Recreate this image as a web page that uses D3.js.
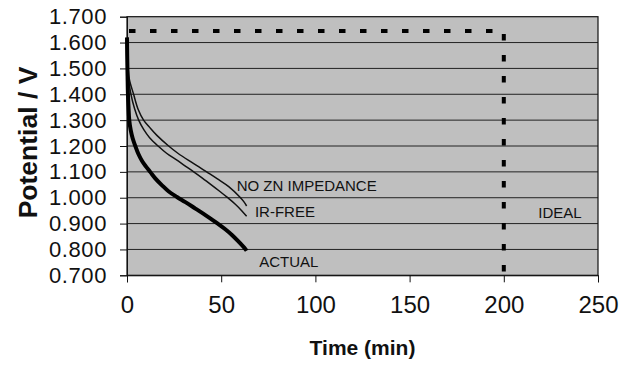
<!DOCTYPE html>
<html>
<head>
<meta charset="utf-8">
<script src="https://cdn.jsdelivr.net/npm/d3@7/dist/d3.min.js"></script>
<style>
  html, body { margin: 0; padding: 0; background: #fff; }
  svg { display: block; font-family: "Liberation Sans", Arial, Helvetica, sans-serif; }
</style>
</head>
<body>
<svg id="chart" width="629" height="365"></svg>
<script>
// ---- data ----
const xTicks = [0, 50, 100, 150, 200, 250];
const yTicks = [0.7, 0.8, 0.9, 1.0, 1.1, 1.2, 1.3, 1.4, 1.5, 1.6, 1.7];

const actualTime = [0, 0.1, 0.3, 0.5, 0.8, 1.2, 2, 3, 4.4, 6, 8, 10, 12.4, 15, 18.6, 22, 26.5, 31, 36.3, 42, 47.8, 52, 55.7, 59, 62.8, 63.5];
const actualV    = [1.62, 1.55, 1.47, 1.40, 1.35, 1.30, 1.26, 1.23, 1.20, 1.17, 1.142, 1.121, 1.099, 1.075, 1.048, 1.025, 1.003, 0.983, 0.958, 0.931, 0.902, 0.879, 0.856, 0.832, 0.802, 0.795];

const irTime = [0, 0.3, 0.8, 2.1, 4, 6.2, 9, 12, 16.8, 21, 26.5, 30, 35.4, 40, 45.1, 49, 53.1, 57.5, 61, 63.5];
const irV    = [1.60, 1.52, 1.46, 1.40, 1.345, 1.30, 1.262, 1.232, 1.198, 1.172, 1.145, 1.127, 1.10, 1.076, 1.048, 1.026, 1.002, 0.975, 0.949, 0.928];

const noZnTime = [0, 0.4, 1.2, 3.5, 6, 8.8, 12, 16, 22.1, 27, 32.7, 38, 42.5, 48, 54, 60, 62, 63.5];
const noZnV    = [1.60, 1.52, 1.46, 1.40, 1.34, 1.30, 1.272, 1.240, 1.200, 1.172, 1.144, 1.120, 1.099, 1.073, 1.043, 1.002, 0.985, 0.968];

const idealTime = [0, 200, 200];
const idealV    = [1.645, 1.645, 0.7];

const labelText = ["NO ZN IMPEDANCE", "IR-FREE", "ACTUAL", "IDEAL"];
const labelTime = [58.2, 67.9, 70.2, 218.3];
const labelV    = [1.027, 0.924, 0.733, 0.923];

// ---- layout ----
const svg = d3.select("#chart");
const mLeft = 127, mRight = 598, mTop = 16.7, mBottom = 275.3;

const x = d3.scaleLinear().domain([0, 250]).range([mLeft, mRight]);
const y = d3.scaleLinear().domain([0.7, 1.7]).range([mBottom, mTop]);

// plot background
svg.append("rect")
  .attr("x", mLeft).attr("y", mTop)
  .attr("width", mRight - mLeft).attr("height", mBottom - mTop)
  .attr("fill", "#bfbfbf");

// gridlines
svg.append("g").selectAll("line")
  .data(yTicks.slice(1, -1))
  .join("line")
  .attr("x1", mLeft).attr("x2", mRight)
  .attr("y1", d => y(d)).attr("y2", d => y(d))
  .attr("stroke", "#222").attr("stroke-width", 1);

// frame
svg.append("rect")
  .attr("x", mLeft).attr("y", mTop)
  .attr("width", mRight - mLeft).attr("height", mBottom - mTop)
  .attr("fill", "none").attr("stroke", "#111").attr("stroke-width", 1.2);

// axes
const yAxis = d3.axisLeft(y).tickValues(yTicks).tickFormat(d3.format(".3f")).tickSize(7).tickPadding(13);
const gy = svg.append("g").attr("transform", `translate(${mLeft},0)`).call(yAxis);
gy.select(".domain").attr("stroke", "#111");
gy.selectAll(".tick line").attr("stroke", "#111");
gy.selectAll("text")
  .attr("font-size", 22).attr("fill", "#111")
  .attr("font-family", "'Liberation Sans', Arial, sans-serif")
  .attr("letter-spacing", "0.6px");

const xAxis = d3.axisBottom(x).tickValues(xTicks).tickSize(7).tickPadding(14);
const gx = svg.append("g").attr("transform", `translate(0,${mBottom})`).call(xAxis);
gx.select(".domain").attr("stroke", "#111");
gx.selectAll(".tick line").attr("stroke", "#111");
gx.selectAll("text")
  .attr("font-size", 24).attr("fill", "#111")
  .attr("font-family", "'Liberation Sans', Arial, sans-serif");

// axis titles
svg.append("text")
  .attr("x", (mLeft + mRight) / 2).attr("y", 355)
  .attr("text-anchor", "middle")
  .attr("font-size", 21).attr("font-weight", "bold").attr("fill", "#111")
  .text("Time (min)");

svg.append("text")
  .attr("transform", "translate(36.5,142.5) rotate(-90)")
  .attr("text-anchor", "middle")
  .attr("font-size", 26.5).attr("font-weight", "bold").attr("fill", "#111")
  .text("Potential / V");

// series
const line = d3.line().x(d => x(d[0])).y(d => y(d[1])).curve(d3.curveCatmullRom.alpha(0.5));
const zip = (a, b) => a.map((v, i) => [v, b[i]]);

svg.append("path")
  .datum(zip(noZnTime, noZnV))
  .attr("d", line).attr("fill", "none")
  .attr("stroke", "#111").attr("stroke-width", 1.5);

svg.append("path")
  .datum(zip(irTime, irV))
  .attr("d", line).attr("fill", "none")
  .attr("stroke", "#111").attr("stroke-width", 1.5);

svg.append("path")
  .datum(zip(actualTime, actualV))
  .attr("d", line).attr("fill", "none")
  .attr("stroke", "#000").attr("stroke-width", 4);

// ideal dashed
const idealLine = d3.line().x(d => x(d[0])).y(d => y(d[1]));
svg.append("path")
  .datum(zip(idealTime, idealV))
  .attr("d", idealLine).attr("fill", "none")
  .attr("stroke", "#000").attr("stroke-width", 4)
  .attr("stroke-dasharray", "6.5,14.5")
  .attr("stroke-dashoffset", -2);

// labels
svg.append("g").selectAll("text")
  .data(labelText)
  .join("text")
  .attr("x", (d, i) => x(labelTime[i]))
  .attr("y", (d, i) => y(labelV[i]))
  .attr("font-size", 15).attr("fill", "#111")
  .text(d => d);
</script>
</body>
</html>
